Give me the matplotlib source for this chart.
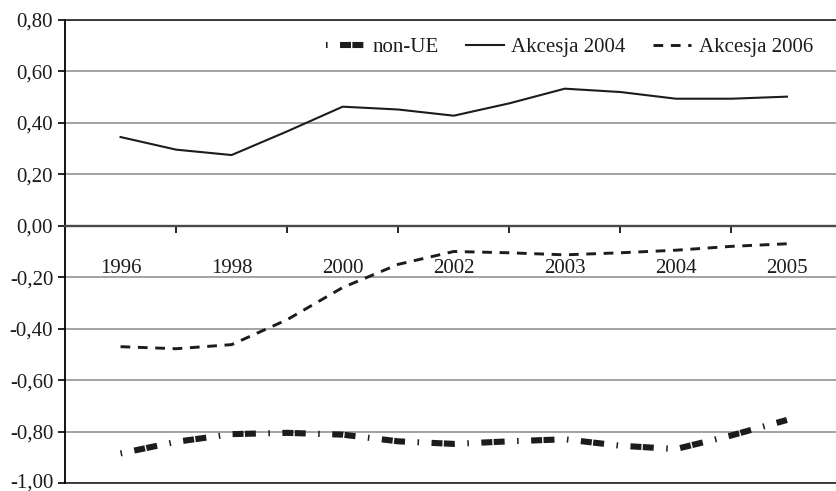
import matplotlib
matplotlib.use('Agg')
import matplotlib.pyplot as plt
from matplotlib.ticker import FixedLocator, FuncFormatter
from matplotlib.transforms import ScaledTranslation

plt.rcParams['font.family'] = ['Liberation Serif', 'DejaVu Serif']
plt.rcParams['lines.scale_dashes'] = False

# ---- data ----
years = ['1996', '1998', '2000', '2002', '2003', '2004', '2005']
x_points = [0, 0.5, 1, 1.5, 2, 2.5, 3, 3.5, 4, 4.5, 5, 5.5, 6]
non_ue = [-0.885, -0.84, -0.81, -0.805, -0.812, -0.838, -0.848,
          -0.838, -0.83, -0.855, -0.868, -0.815, -0.755]
akcesja_2004 = [0.345, 0.296, 0.275, 0.367, 0.463, 0.452, 0.428,
                0.476, 0.533, 0.52, 0.494, 0.494, 0.502]
akcesja_2006 = [-0.47, -0.478, -0.462, -0.365, -0.24, -0.15, -0.10,
                -0.105, -0.113, -0.105, -0.095, -0.08, -0.07]
y_ticks = [-1.0, -0.8, -0.6, -0.4, -0.2, 0.0, 0.2, 0.4, 0.6, 0.8]

W, H = 836, 491
fig = plt.figure(figsize=(W / 100, H / 100), dpi=100)
ax = fig.add_axes([65 / W, 1 - 483 / H, (842.5 - 65) / W, (483 - 20) / H])

ax.set_xlim(-0.5, 6.5)
ax.set_ylim(-1.0, 0.8)

# grid
ax.set_yticks(y_ticks)
ax.yaxis.grid(True, color='#8a8a8a', lw=1.1)
ax.set_axisbelow(True)
# plot-area frame line at the bottom
ax.axhline(y_ticks[0], color='#222222', lw=1.2, zorder=1.5, clip_on=False)

ink = '#1c1c1c'
l1, = ax.plot(x_points, non_ue, color=ink, lw=4.4, label='non-UE',
              dash_capstyle='butt', solid_capstyle='butt')
l1.set_dashes((1.1, 9.0, 7.9, 1.0, 7.9, 9.0))
l2, = ax.plot(x_points, akcesja_2004, color=ink, lw=1.5, label='Akcesja 2004')
l3, = ax.plot(x_points, akcesja_2006, color=ink, lw=2.1, label='Akcesja 2006',
              dash_capstyle='butt')
l3.set_dashes((7.0, 5.5))

# spines
ax.spines['right'].set_visible(False)
ax.spines['top'].set_color('#222222')
ax.spines['top'].set_linewidth(1.2)
ax.spines['left'].set_color('black')
ax.spines['left'].set_linewidth(1.3)
ax.spines['bottom'].set_position(('data', 0))
ax.spines['bottom'].set_color('#4a4a4a')
ax.spines['bottom'].set_linewidth(1.7)

# x ticks: labels at categories, tick marks between
ax.xaxis.set_major_locator(FixedLocator(range(len(years))))
ax.set_xticklabels(years)
ax.xaxis.set_minor_locator(FixedLocator([i + 0.5 for i in range(len(years) - 1)]))
ax.tick_params(axis='x', which='major', length=0, pad=24, labelsize=15,
               labelcolor=ink)
ax.tick_params(axis='x', which='minor', length=5, width=1.2, direction='out',
               color='black')

# y ticks
ax.yaxis.set_major_formatter(FuncFormatter(
    lambda v, p: ('%.2f' % (0.0 if abs(v) < 1e-9 else v)).replace('.', ',')))
ax.tick_params(axis='y', length=5, width=1.2, direction='out', pad=3.5,
               labelsize=15, color='black', labelcolor=ink)

# keep the lowest y label inside the picture
fig.canvas.draw()
low = ax.get_yticklabels()[0]
low.set_transform(low.get_transform() + ScaledTranslation(0, 2 / 72, fig.dpi_scale_trans))

leg = ax.legend(handles=[l1, l2, l3], loc='center right',
                bbox_to_anchor=(813 / W, 1 - 47 / H),
                bbox_transform=fig.transFigure, ncol=3, frameon=False,
                fontsize=15, handlelength=1.85, handletextpad=0.35,
                columnspacing=1.3, borderpad=0, borderaxespad=0)
for t in leg.get_texts():
    t.set_color(ink)

fig.savefig('out.png', dpi=100)
